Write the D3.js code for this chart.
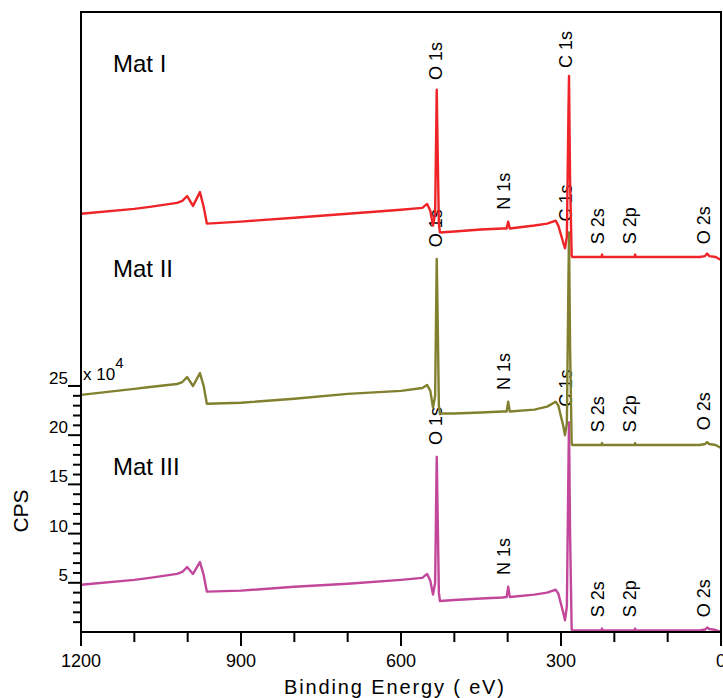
<!DOCTYPE html>
<meta charset="utf-8">
<style>
  body { margin: 0; background: #fff; }
  text { font-family: "Liberation Sans", Arial, sans-serif; fill: #000; }
</style>
<script src="https://d3js.org/d3.v7.min.js"></script>
<svg id="chart"></svg>
<script>

// binding energies (eV) shared by the three spectra
var energies = [1200, 1100, 1071, 1020, 1010, 1001, 990, 977, 970, 964,
  900, 800, 700, 600, 560, 551, 545, 540, 536, 533, 531, 529, 527,
  500, 450, 410, 402, 399, 396, 350, 326, 310, 305, 296, 292.5, 289,
  286, 285, 283, 280, 279, 250, 224, 223, 222, 162, 161, 160, 100,
  40, 30, 26, 22, 10, 0];

// CPS (x10^4) as plotted, offsets included
var matI = [42.5, 43.0, 43.2, 43.6, 43.8, 44.3, 43.3, 44.7, 43.2, 41.5,
  41.7, 42.1, 42.5, 42.9, 43.1, 43.5, 42.8, 41.3, 42.5, 55.1, 48, 41.5, 40.6,
  40.7, 40.9, 41.0, 41.0, 41.7, 41.0, 41.3, 41.5, 41.8, 41.3, 39.6, 39.0, 40.2,
  53, 56.5, 46, 38.3, 38.1, 38.1, 38.1, 38.35, 38.1, 38.1, 38.35, 38.1, 38.1,
  38.1, 38.2, 38.45, 38.2, 38.1, 37.8];

var matII = [24.1, 24.7, 24.9, 25.2, 25.4, 25.9, 25.0, 26.3, 25.0, 23.2,
  23.3, 23.7, 24.2, 24.5, 24.8, 25.1, 24.5, 22.8, 24.0, 37.9, 31, 23, 22.2,
  22.2, 22.3, 22.4, 22.4, 23.4, 22.4, 22.6, 22.9, 23.4, 23.0, 21.0, 20.0, 21.2,
  36, 40.6, 29, 19.2, 19.0, 19.0, 19.0, 19.2, 19.0, 19.0, 19.2, 19.0, 19.0,
  19.0, 19.1, 19.3, 19.1, 19.0, 18.7];

var matIII = [4.8, 5.3, 5.5, 5.9, 6.1, 6.6, 5.9, 7.1, 5.8, 4.1,
  4.2, 4.6, 4.9, 5.3, 5.5, 5.9, 5.2, 3.8, 5.0, 17.8, 11, 4.0, 3.15,
  3.25, 3.4, 3.5, 3.55, 4.6, 3.55, 3.8, 4.0, 4.3, 3.9, 2.0, 1.2, 2.6,
  17, 21.3, 10, 0.3, 0.15, 0.15, 0.15, 0.35, 0.15, 0.15, 0.35, 0.15, 0.15,
  0.15, 0.25, 0.45, 0.3, 0.2, 0.0];

var seriesNames = ["Mat I", "Mat II", "Mat III"];
var seriesColors = ["#ee2428", "#80802f", "#c2479b"];

// peak annotations: energy and the CPS level where each label starts
var peakNames = ["O 1s", "C 1s", "N 1s", "S 2s", "S 2p", "O 2s"];
var peakEnergies = [536, 291, 408, 232, 171, 32];
var peakLevelsI = [56.1, 57.3, 42.9, 39.4, 39.4, 39.4];
var peakLevelsII = [39.1, 41.7, 24.6, 20.3, 20.3, 20.5];
var peakLevelsIII = [19.0, 22.9, 5.8, 1.5, 1.5, 1.5];

var nameLevels = [56.9, 36.1, 16.0];
var xTicks = [1200, 900, 600, 300, 0];
var yTicks = [5, 10, 15, 20, 25];

var width = 723, height = 698;
var svg = d3.select("#chart").attr("width", width).attr("height", height);

var x = d3.scaleLinear().domain([1200, 0]).range([81, 721]);
var y = d3.scaleLinear().domain([0, 63]).range([632, 12]);

var allSeries = [matI, matII, matIII];
var allLevels = [peakLevelsI, peakLevelsII, peakLevelsIII];

// peak labels (drawn first, the spectra cross over some of them)
allLevels.forEach(function(levels) {
  svg.append("g").selectAll("text")
    .data(peakNames)
    .enter().append("text")
      .attr("transform", function(d, i) {
        return "translate(" + x(peakEnergies[i]) + "," + y(levels[i]) + ") rotate(-90)";
      })
      .attr("dy", "0.36em")
      .style("font-size", "18px")
      .text(function(d) { return d; });
});

// material names
svg.append("g").selectAll("text")
  .data(seriesNames)
  .enter().append("text")
    .attr("x", x(1140))
    .attr("y", function(d, i) { return y(nameLevels[i]); })
    .style("font-size", "24px")
    .text(function(d) { return d; });

// spectra
var line = d3.line()
  .x(function(d, i) { return x(energies[i]); })
  .y(function(d) { return y(d); });

svg.append("g").selectAll("path")
  .data([matIII, matII, matI])
  .enter().append("path")
    .attr("d", line)
    .attr("fill", "none")
    .attr("stroke", function(d, i) { return seriesColors[2 - i]; })
    .attr("stroke-width", 2.4)
    .attr("stroke-linejoin", "round");

// frame
svg.append("path")
  .attr("d", "M" + x(1200) + "," + y(0) + "V" + y(63) + "H" + x(0) + "V" + y(0))
  .attr("fill", "none")
  .attr("stroke", "#000")
  .attr("stroke-width", 2);

// x axis
var xAxis = svg.append("g").attr("transform", "translate(0," + y(0) + ")");
xAxis.append("line")
  .attr("x1", x(1200)).attr("x2", x(0))
  .attr("stroke", "#000").attr("stroke-width", 2);
xAxis.selectAll(".tick")
  .data(d3.range(0, 1201, 100))
  .enter().append("line")
    .attr("x1", function(d) { return x(d); })
    .attr("x2", function(d) { return x(d); })
    .attr("y1", 0)
    .attr("y2", function(d) { return d % 300 === 0 ? 14 : 10; })
    .attr("stroke", "#000").attr("stroke-width", 2);
xAxis.selectAll("text")
  .data(xTicks)
  .enter().append("text")
    .attr("x", function(d) { return x(d); })
    .attr("y", 35)
    .attr("text-anchor", "middle")
    .style("font-size", "18px")
    .text(function(d) { return d; });

svg.append("text")
  .attr("x", 394)
  .attr("y", 694)
  .attr("text-anchor", "middle")
  .attr("textLength", 220)
  .attr("lengthAdjust", "spacing")
  .style("font-size", "20px")
  .text("Binding Energy (  eV)");

// y axis
var yAxis = svg.append("g").attr("transform", "translate(" + x(1200) + ",0)");
yAxis.selectAll(".tick")
  .data(d3.range(1, 26))
  .enter().append("line")
    .attr("y1", function(d) { return y(d); })
    .attr("y2", function(d) { return y(d); })
    .attr("x1", function(d) { return d % 5 === 0 ? -13 : -8; })
    .attr("x2", 0)
    .attr("stroke", "#000").attr("stroke-width", 2);
yAxis.selectAll("text")
  .data(yTicks)
  .enter().append("text")
    .attr("x", -13)
    .attr("y", function(d) { return y(d) - 2; })
    .attr("text-anchor", "end")
    .style("font-size", "17px")
    .text(function(d) { return d; });

var mult = svg.append("text")
  .attr("x", 83)
  .attr("y", 380)
  .style("font-size", "17px")
  .text("x 10");
mult.append("tspan")
  .attr("dy", -12)
  .style("font-size", "15px")
  .text("4");

svg.append("text")
  .attr("transform", "translate(28,511) rotate(-90)")
  .attr("text-anchor", "middle")
  .style("font-size", "21px")
  .text("CPS");

</script>
